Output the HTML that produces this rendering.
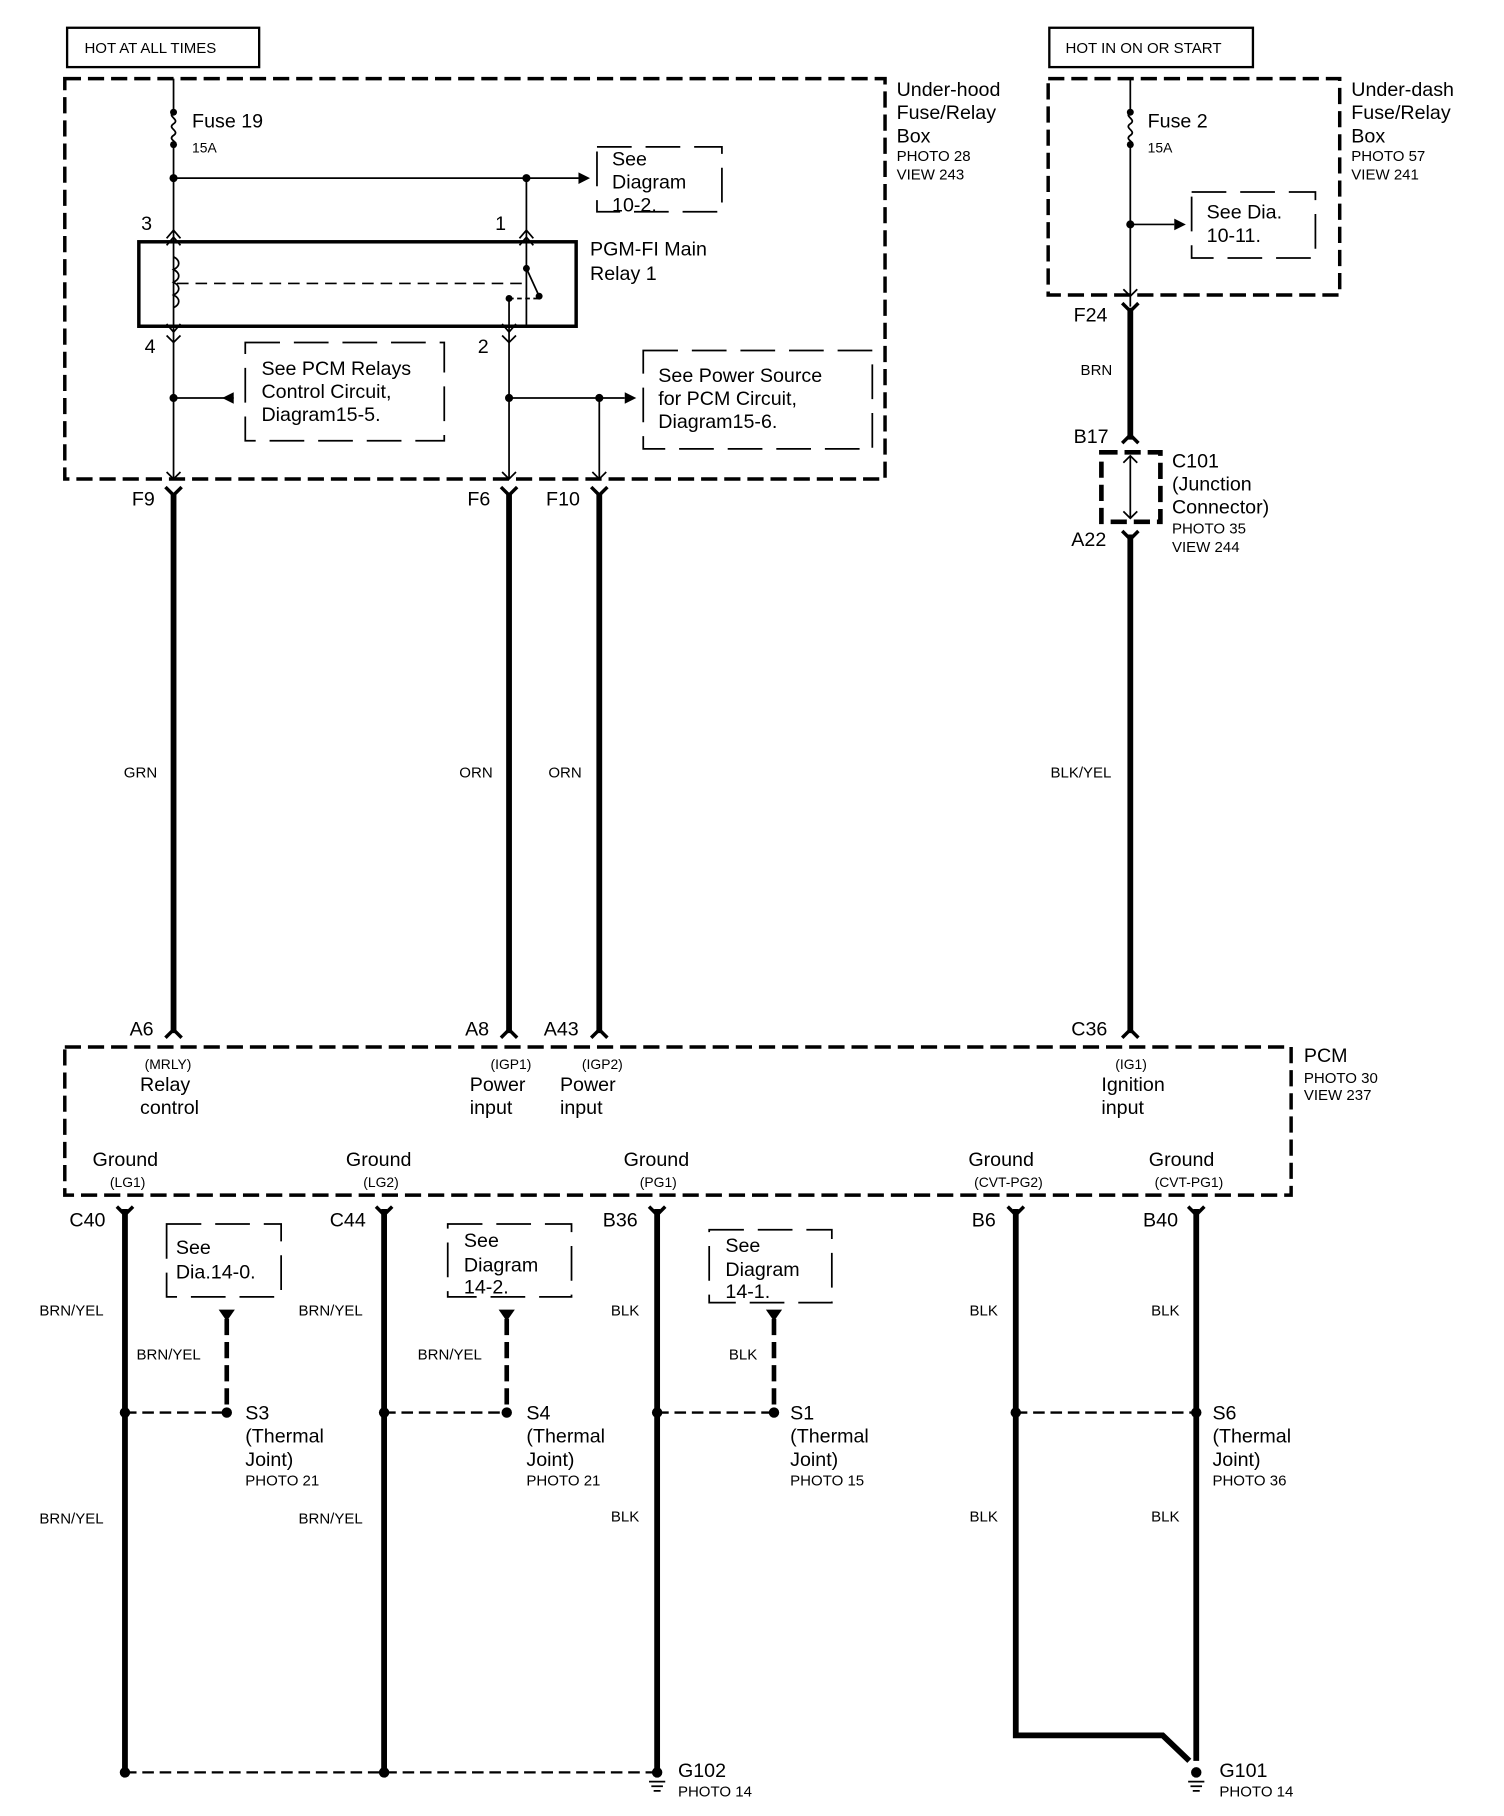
<!DOCTYPE html>
<html><head><meta charset="utf-8"><style>
html,body{margin:0;padding:0;background:#fff;}
svg{display:block;}
text{font-family:"Liberation Sans",sans-serif;fill:#000;}
.l{font-size:17px}.s{font-size:13px}.xs{font-size:12px}
</style></head><body>
<svg width="1504" height="1816" viewBox="0 0 1300 1569.7" xmlns="http://www.w3.org/2000/svg">
<g fill="none" stroke="#000">
<!-- top boxes -->
<rect x="58" y="24" width="166" height="34" stroke-width="2"/>
<rect x="907" y="24" width="176" height="34" stroke-width="2"/>
<rect x="56" y="68" width="709" height="346" stroke-width="3" stroke-dasharray="14 6"/>
<rect x="906" y="68" width="252" height="187" stroke-width="3" stroke-dasharray="14 6"/>
<!-- ref boxes -->
<rect x="516" y="127" width="108" height="56" stroke-width="1.5" stroke-dasharray="30 12"/>
<rect x="212" y="296" width="172" height="85" stroke-width="1.5" stroke-dasharray="30 12"/>
<rect x="556" y="303" width="198" height="85" stroke-width="1.5" stroke-dasharray="30 12"/>
<rect x="1030" y="166" width="107" height="57" stroke-width="1.5" stroke-dasharray="30 12"/>
<rect x="144" y="1058" width="99" height="63" stroke-width="1.5" stroke-dasharray="30 12"/>
<rect x="387" y="1058" width="107" height="63" stroke-width="1.5" stroke-dasharray="30 12"/>
<rect x="613" y="1063" width="106" height="63" stroke-width="1.5" stroke-dasharray="30 12"/>
<!-- relay -->
<rect x="120" y="209" width="378" height="73" stroke-width="3"/>
<!-- thin wires left -->
<g stroke-width="1.5">
<path d="M150 68V97M150 125V282M150 154H500M455 154V282M150 282V414M440 258V414M440 344H540M518 344V414M150 344H202"/>
<path d="M150 97c-6 4 6 6 0 10s6 6 0 10s6 6 0 8"/>
<path d="M150 222c6 3 6 8 0 11c6 3 6 8 0 11c6 3 6 8 0 11c6 3 6 8 0 11" />
<path d="M153 245H452" stroke-dasharray="10 6"/>
<path d="M455 232L466 256"/>
<path d="M440 258H466" stroke-dasharray="4 3"/>
<path d="M977 68V97M977 125V265M977 194H1015M977 395V448"/>
<path d="M977 97c-6 4 6 6 0 10s6 6 0 10s6 6 0 8"/>
<!-- pin chevrons -->
<path d="M144 206L150 199L156 206M449 206L455 199L461 206M144 212L150 205L156 212M449 212L455 205L461 212M144 280L150 287L156 280M434 280L440 287L446 280M144 290L150 296L156 290M434 290L440 296L446 290M144 408L150 414L156 408M434 408L440 414L446 408M512 408L518 414L524 408M971 250L977 256L983 250M971 400L977 394L983 400M971 442L977 448L983 442"/>
</g>
<!-- heavy wires -->
<g stroke-width="5">
<path d="M150 426V893M440 426V893M518 426V893M977 266V380M977 462V893"/>
<path d="M108 1045V1532M332 1045V1532M568 1045V1532M1034 1045V1522M878 1045V1500H1005L1028 1522"/>
</g>
<!-- connectors -->
<g stroke-width="3">
<path d="M143 421L150 428L157 421M433 421L440 428L447 421M511 421L518 428L525 421M970 262L977 269L984 262M970 383L977 376L984 383M970 459L977 466L984 459"/>
<path d="M143 897L150 890L157 897M433 897L440 890L447 897M511 897L518 890L525 897M970 897L977 890L984 897"/>
<path d="M101 1043L108 1050L115 1043M325 1043L332 1050L339 1043M561 1043L568 1050L575 1043M871 1043L878 1050L885 1043M1027 1043L1034 1050L1041 1043"/>
</g>
<rect x="952" y="391" width="51" height="60" stroke-width="4" stroke-dasharray="14 6"/>
<rect x="56" y="905" width="1060" height="128" stroke-width="3" stroke-dasharray="14 6"/>
<!-- dashed branch wires -->
<g stroke-width="4" stroke-dasharray="14 6">
<path d="M196 1140V1221M438 1140V1221M669 1140V1221"/>
</g>
<g stroke-width="2" stroke-dasharray="10 5">
<path d="M108 1221H196M332 1221H438M568 1221H669M878 1221H1034M108 1532H568"/>
</g>
<!-- ground symbols -->
<g stroke-width="1.5"><path d="M561 1540H575M563 1544H573M565 1548H571M1027 1540H1041M1029 1544H1039M1031 1548H1037"/></g>
</g>
<g fill="#000">
<path d="M500 149L510 154L500 159Z"/>
<path d="M540 339L550 344L540 349Z"/>
<path d="M1015 189L1025 194L1015 199Z"/>
<path d="M202 339L192 344L202 349Z"/>
<path d="M189 1132H203L196 1142Z"/><path d="M431 1132H445L438 1142Z"/><path d="M662 1132H676L669 1142Z"/>
<circle cx="150" cy="97" r="3"/><circle cx="150" cy="125" r="3"/><circle cx="150" cy="154" r="3.5"/><circle cx="455" cy="154" r="3.5"/>
<circle cx="150" cy="344" r="3.5"/><circle cx="440" cy="344" r="3.5"/><circle cx="518" cy="344" r="3.5"/>
<circle cx="977" cy="97" r="3"/><circle cx="977" cy="125" r="3"/><circle cx="977" cy="194" r="3.5"/>
<circle cx="455" cy="232" r="3"/><circle cx="466" cy="256" r="3"/><circle cx="440" cy="258" r="3"/>
<circle cx="108" cy="1221" r="4.5"/><circle cx="196" cy="1221" r="4.5"/><circle cx="332" cy="1221" r="4.5"/><circle cx="438" cy="1221" r="4.5"/>
<circle cx="568" cy="1221" r="4.5"/><circle cx="669" cy="1221" r="4.5"/><circle cx="878" cy="1221" r="4.5"/><circle cx="1034" cy="1221" r="4.5"/>
<circle cx="108" cy="1532" r="4.5"/><circle cx="332" cy="1532" r="4.5"/><circle cx="568" cy="1532" r="4.5"/><circle cx="1034" cy="1532" r="4.5"/>
</g>
<text class="s" x="73" y="46">HOT AT ALL TIMES</text>
<text class="s" x="921" y="46">HOT IN ON OR START</text>
<text class="l" x="166" y="110">Fuse 19</text><text class="xs" x="166" y="132">15A</text>
<text class="l" x="992" y="110">Fuse 2</text><text class="xs" x="992" y="132">15A</text>
<text class="l" x="775" y="83">Under-hood</text><text class="l" x="775" y="103">Fuse/Relay</text><text class="l" x="775" y="123">Box</text>
<text class="s" x="775" y="139">PHOTO 28</text><text class="s" x="775" y="155">VIEW 243</text>
<text class="l" x="1168" y="83">Under-dash</text><text class="l" x="1168" y="103">Fuse/Relay</text><text class="l" x="1168" y="123">Box</text>
<text class="s" x="1168" y="139">PHOTO 57</text><text class="s" x="1168" y="155">VIEW 241</text>
<text class="l" x="529" y="143">See</text><text class="l" x="529" y="163">Diagram</text><text class="l" x="529" y="183">10-2.</text>
<text class="l" x="1043" y="189">See Dia.</text><text class="l" x="1043" y="209">10-11.</text>
<text class="l" x="122" y="199">3</text><text class="l" x="428" y="199">1</text>
<text class="l" x="125" y="305">4</text><text class="l" x="413" y="305">2</text>
<text class="l" x="510" y="221">PGM-FI Main</text><text class="l" x="510" y="242">Relay 1</text>
<text class="l" x="226" y="324">See PCM Relays</text><text class="l" x="226" y="344">Control Circuit,</text><text class="l" x="226" y="364">Diagram15-5.</text>
<text class="l" x="569" y="330">See Power Source</text><text class="l" x="569" y="350">for PCM Circuit,</text><text class="l" x="569" y="370">Diagram15-6.</text>
<text class="l" x="114" y="437">F9</text><text class="l" x="404" y="437">F6</text><text class="l" x="472" y="437">F10</text>
<text class="l" x="928" y="278">F24</text><text class="s" x="934" y="324">BRN</text>
<text class="l" x="928" y="383">B17</text><text class="l" x="926" y="472">A22</text>
<text class="l" x="1013" y="404">C101</text><text class="l" x="1013" y="424">(Junction</text><text class="l" x="1013" y="444">Connector)</text>
<text class="s" x="1013" y="461">PHOTO 35</text><text class="s" x="1013" y="477">VIEW 244</text>
<text class="s" x="107" y="672">GRN</text><text class="s" x="397" y="672">ORN</text><text class="s" x="474" y="672">ORN</text><text class="s" x="908" y="672">BLK/YEL</text>
<text class="l" x="112" y="895">A6</text><text class="l" x="402" y="895">A8</text><text class="l" x="470" y="895">A43</text><text class="l" x="926" y="895">C36</text>
<text class="l" x="1127" y="918">PCM</text><text class="s" x="1127" y="936">PHOTO 30</text><text class="s" x="1127" y="951">VIEW 237</text>
<text class="xs" x="125" y="924">(MRLY)</text><text class="l" x="121" y="943">Relay</text><text class="l" x="121" y="963">control</text>
<text class="xs" x="424" y="924">(IGP1)</text><text class="l" x="406" y="943">Power</text><text class="l" x="406" y="963">input</text>
<text class="xs" x="503" y="924">(IGP2)</text><text class="l" x="484" y="943">Power</text><text class="l" x="484" y="963">input</text>
<text class="xs" x="964" y="924">(IG1)</text><text class="l" x="952" y="943">Ignition</text><text class="l" x="952" y="963">input</text>
<text class="l" x="80" y="1008">Ground</text><text class="xs" x="95" y="1026">(LG1)</text>
<text class="l" x="299" y="1008">Ground</text><text class="xs" x="314" y="1026">(LG2)</text>
<text class="l" x="539" y="1008">Ground</text><text class="xs" x="553" y="1026">(PG1)</text>
<text class="l" x="837" y="1008">Ground</text><text class="xs" x="842" y="1026">(CVT-PG2)</text>
<text class="l" x="993" y="1008">Ground</text><text class="xs" x="998" y="1026">(CVT-PG1)</text>
<text class="l" x="60" y="1060">C40</text><text class="l" x="285" y="1060">C44</text><text class="l" x="521" y="1060">B36</text><text class="l" x="840" y="1060">B6</text><text class="l" x="988" y="1060">B40</text>
<text class="l" x="152" y="1084">See</text><text class="l" x="152" y="1105">Dia.14-0.</text>
<text class="l" x="401" y="1078">See</text><text class="l" x="401" y="1099">Diagram</text><text class="l" x="401" y="1118">14-2.</text>
<text class="l" x="627" y="1082">See</text><text class="l" x="627" y="1103">Diagram</text><text class="l" x="627" y="1122">14-1.</text>
<text class="s" x="34" y="1137">BRN/YEL</text><text class="s" x="258" y="1137">BRN/YEL</text><text class="s" x="528" y="1137">BLK</text><text class="s" x="838" y="1137">BLK</text><text class="s" x="995" y="1137">BLK</text>
<text class="s" x="118" y="1175">BRN/YEL</text><text class="s" x="361" y="1175">BRN/YEL</text><text class="s" x="630" y="1175">BLK</text>
<text class="s" x="34" y="1317">BRN/YEL</text><text class="s" x="258" y="1317">BRN/YEL</text><text class="s" x="528" y="1315">BLK</text><text class="s" x="838" y="1315">BLK</text><text class="s" x="995" y="1315">BLK</text>
<text class="l" x="212" y="1227">S3</text><text class="l" x="212" y="1247">(Thermal</text><text class="l" x="212" y="1267">Joint)</text><text class="s" x="212" y="1284">PHOTO 21</text>
<text class="l" x="455" y="1227">S4</text><text class="l" x="455" y="1247">(Thermal</text><text class="l" x="455" y="1267">Joint)</text><text class="s" x="455" y="1284">PHOTO 21</text>
<text class="l" x="683" y="1227">S1</text><text class="l" x="683" y="1247">(Thermal</text><text class="l" x="683" y="1267">Joint)</text><text class="s" x="683" y="1284">PHOTO 15</text>
<text class="l" x="1048" y="1227">S6</text><text class="l" x="1048" y="1247">(Thermal</text><text class="l" x="1048" y="1267">Joint)</text><text class="s" x="1048" y="1284">PHOTO 36</text>
<text class="l" x="586" y="1536">G102</text><text class="s" x="586" y="1553">PHOTO 14</text>
<text class="l" x="1054" y="1536">G101</text><text class="s" x="1054" y="1553">PHOTO 14</text>
</svg>
</body></html>
